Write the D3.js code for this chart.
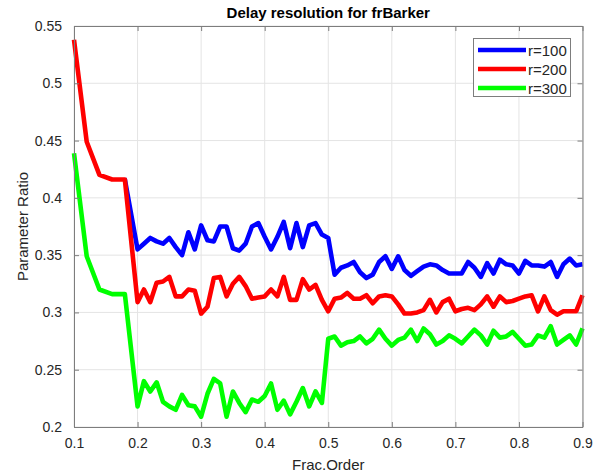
<!DOCTYPE html>
<html>
<head>
<meta charset="utf-8">
<script src="https://cdn.jsdelivr.net/npm/d3@7"></script>
<style>
  body { margin: 0; background: #ffffff; }
  text { font-family: "Liberation Sans", Arial, Helvetica, sans-serif; }
</style>
</head>
<body>
<svg id="chart" width="602" height="475"></svg>
<script>
// Fractional order values (coarse steps up to 0.2, then every 0.01)
const fracOrder = [
  0.10, 0.12, 0.14, 0.16, 0.18,
  0.20, 0.21, 0.22, 0.23, 0.24, 0.25, 0.26, 0.27, 0.28, 0.29,
  0.30, 0.31, 0.32, 0.33, 0.34, 0.35, 0.36, 0.37, 0.38, 0.39,
  0.40, 0.41, 0.42, 0.43, 0.44, 0.45, 0.46, 0.47, 0.48, 0.49,
  0.50, 0.51, 0.52, 0.53, 0.54, 0.55, 0.56, 0.57, 0.58, 0.59,
  0.60, 0.61, 0.62, 0.63, 0.64, 0.65, 0.66, 0.67, 0.68, 0.69,
  0.70, 0.71, 0.72, 0.73, 0.74, 0.75, 0.76, 0.77, 0.78, 0.79,
  0.80, 0.81, 0.82, 0.83, 0.84, 0.85, 0.86, 0.87, 0.88, 0.89,
  0.90
];

// Parameter ratio for r = 100
const ratioR100 = [
  0.538, 0.449, 0.420, 0.416, 0.416,
  0.355, 0.360, 0.365, 0.362, 0.360, 0.365, 0.357, 0.350, 0.370, 0.355,
  0.376, 0.363, 0.362, 0.375, 0.375, 0.356, 0.354, 0.360, 0.375, 0.378,
  0.366, 0.355, 0.366, 0.379, 0.356, 0.378, 0.357, 0.376, 0.378, 0.368,
  0.365, 0.333, 0.339, 0.341, 0.344, 0.335, 0.330, 0.333, 0.344, 0.349,
  0.338, 0.349, 0.337, 0.332, 0.336, 0.340, 0.342, 0.341, 0.337, 0.334,
  0.334, 0.334, 0.344, 0.339, 0.331, 0.343, 0.334, 0.346, 0.342, 0.341,
  0.334, 0.345, 0.341, 0.341, 0.340, 0.344, 0.331, 0.342, 0.347, 0.341,
  0.342
];

// Parameter ratio for r = 200
const ratioR200 = [
  0.538, 0.449, 0.420, 0.416, 0.416,
  0.309, 0.320, 0.309, 0.326, 0.327, 0.331, 0.314, 0.314, 0.320, 0.319,
  0.299, 0.305, 0.330, 0.331, 0.314, 0.325, 0.331, 0.323, 0.312, 0.313,
  0.314, 0.320, 0.314, 0.331, 0.311, 0.311, 0.329, 0.320, 0.324, 0.311,
  0.301, 0.312, 0.313, 0.317, 0.312, 0.312, 0.315, 0.308, 0.314, 0.315,
  0.314, 0.307, 0.299, 0.299, 0.300, 0.302, 0.311, 0.300, 0.309, 0.312,
  0.301, 0.303, 0.304, 0.302, 0.307, 0.314, 0.305, 0.314, 0.309, 0.310,
  0.312, 0.314, 0.315, 0.301, 0.314, 0.302, 0.298, 0.301, 0.301, 0.301,
  0.315
];

// Parameter ratio for r = 300
const ratioR300 = [
  0.439, 0.349, 0.320, 0.316, 0.316,
  0.218, 0.240, 0.231, 0.239, 0.222, 0.218, 0.215, 0.228, 0.219, 0.218,
  0.209, 0.229, 0.242, 0.238, 0.209, 0.231, 0.221, 0.213, 0.224, 0.222,
  0.227, 0.238, 0.215, 0.223, 0.211, 0.222, 0.234, 0.218, 0.231, 0.221,
  0.277, 0.279, 0.271, 0.274, 0.275, 0.279, 0.273, 0.277, 0.285, 0.277,
  0.271, 0.276, 0.278, 0.285, 0.275, 0.286, 0.281, 0.272, 0.275, 0.280,
  0.277, 0.273, 0.279, 0.285, 0.280, 0.272, 0.284, 0.278, 0.279, 0.283,
  0.277, 0.271, 0.272, 0.280, 0.278, 0.288, 0.272, 0.276, 0.280, 0.272,
  0.286
];

const seriesLabels = ["r=100", "r=200", "r=300"];
const seriesColors = ["#0000ff", "#ff0000", "#00ff00"];
const seriesValues = [ratioR100, ratioR200, ratioR300];

const xTicks = [0.1, 0.2, 0.3, 0.4, 0.5, 0.6, 0.7, 0.8, 0.9];
const yTicks = [0.2, 0.25, 0.3, 0.35, 0.4, 0.45, 0.5, 0.55];

const titleText = "Delay resolution for frBarker";
const xLabelText = "Frac.Order";
const yLabelText = "Parameter Ratio";

// ---- layout ----
const W = 602, H = 475;
const plot = { left: 74, right: 582.5, top: 26, bottom: 427 };

const svg = d3.select("#chart");
svg.append("rect").attr("width", W).attr("height", H).attr("fill", "#ffffff");

const x = d3.scaleLinear().domain([0.1, 0.9]).range([plot.left, plot.right]);
const y = d3.scaleLinear().domain([0.2, 0.55]).range([plot.bottom, plot.top]);

const fmt = d => String(+d.toFixed(2));
const axisColor = "#7d7d7d";
const labelColor = "#262626";

// grid
const grid = svg.append("g").attr("class", "grid");
grid.selectAll("line.gx").data(xTicks).join("line")
  .attr("x1", d => x(d)).attr("x2", d => x(d))
  .attr("y1", plot.top).attr("y2", plot.bottom)
  .attr("stroke", "#e4e4e4").attr("stroke-width", 1);
grid.selectAll("line.gy").data(yTicks).join("line")
  .attr("x1", plot.left).attr("x2", plot.right)
  .attr("y1", d => y(d)).attr("y2", d => y(d))
  .attr("stroke", "#e4e4e4").attr("stroke-width", 1);

// series lines (later series drawn on top; where r=100 and r=200 coincide
// the r=200 line hides the r=100 line entirely)
const line = d3.line()
  .x((d, i) => x(fracOrder[i]))
  .y(d => y(d));

const firstSplit = fracOrder.indexOf(0.18);
svg.append("defs").append("clipPath").attr("id", "afterSplit")
  .append("rect")
  .attr("x", x(fracOrder[firstSplit]) + 1).attr("y", 0)
  .attr("width", W).attr("height", H);

svg.append("g").attr("class", "series")
  .selectAll("path").data(seriesValues).join("path")
  .attr("d", d => line(d))
  .attr("fill", "none")
  .attr("clip-path", (d, i) => i === 0 ? "url(#afterSplit)" : null)
  .attr("stroke", (d, i) => seriesColors[i])
  .attr("stroke-width", 4.6)
  .attr("stroke-linejoin", "round")
  .attr("stroke-linecap", "butt");

// axes (ticks pointing inward, box on all sides)
function styleAxis(g, showText) {
  g.attr("font-family", null);
  g.select(".domain").attr("stroke", axisColor);
  g.selectAll(".tick line").attr("stroke", axisColor);
  g.selectAll(".tick text")
    .attr("fill", labelColor)
    .style("font-size", "14px")
    .style("display", showText ? null : "none");
}

svg.append("g")
  .attr("transform", `translate(0,${plot.bottom})`)
  .call(d3.axisBottom(x).tickValues(xTicks).tickFormat(fmt).tickSizeInner(-5).tickSizeOuter(0).tickPadding(11))
  .call(g => styleAxis(g, true));

svg.append("g")
  .attr("transform", `translate(0,${plot.top})`)
  .call(d3.axisTop(x).tickValues(xTicks).tickFormat(fmt).tickSizeInner(-5).tickSizeOuter(0))
  .call(g => styleAxis(g, false));

svg.append("g")
  .attr("transform", `translate(${plot.left},0)`)
  .call(d3.axisLeft(y).tickValues(yTicks).tickFormat(fmt).tickSizeInner(-5).tickSizeOuter(0).tickPadding(12))
  .call(g => styleAxis(g, true));

svg.append("g")
  .attr("transform", `translate(${plot.right},0)`)
  .call(d3.axisRight(y).tickValues(yTicks).tickFormat(fmt).tickSizeInner(-5).tickSizeOuter(0))
  .call(g => styleAxis(g, false));

// title and axis labels
svg.append("text")
  .attr("x", (plot.left + plot.right) / 2).attr("y", 18)
  .attr("text-anchor", "middle")
  .style("font-size", "15px").style("font-weight", "bold")
  .attr("fill", "#000000")
  .text(titleText);

svg.append("text")
  .attr("x", (plot.left + plot.right) / 2).attr("y", 470)
  .attr("text-anchor", "middle")
  .style("font-size", "15px")
  .attr("fill", labelColor)
  .text(xLabelText);

svg.append("text")
  .attr("transform", `translate(28,${(plot.top + plot.bottom) / 2}) rotate(-90)`)
  .attr("text-anchor", "middle")
  .style("font-size", "15px")
  .attr("fill", labelColor)
  .text(yLabelText);

// legend
const legend = svg.append("g").attr("class", "legend");
legend.append("rect")
  .attr("x", 473.5).attr("y", 38.5).attr("width", 97).attr("height", 58)
  .attr("fill", "#ffffff").attr("stroke", axisColor).attr("stroke-width", 1);

const rows = legend.selectAll("g.row").data(seriesLabels).join("g")
  .attr("class", "row")
  .attr("transform", (d, i) => `translate(0,${50 + i * 19})`);
rows.append("line")
  .attr("x1", 478).attr("x2", 526).attr("y1", 0).attr("y2", 0)
  .attr("stroke", (d, i) => seriesColors[i]).attr("stroke-width", 4.6);
rows.append("text")
  .attr("x", 528).attr("y", 5.5)
  .style("font-size", "15px")
  .attr("fill", labelColor)
  .text(d => d);
</script>
</body>
</html>
